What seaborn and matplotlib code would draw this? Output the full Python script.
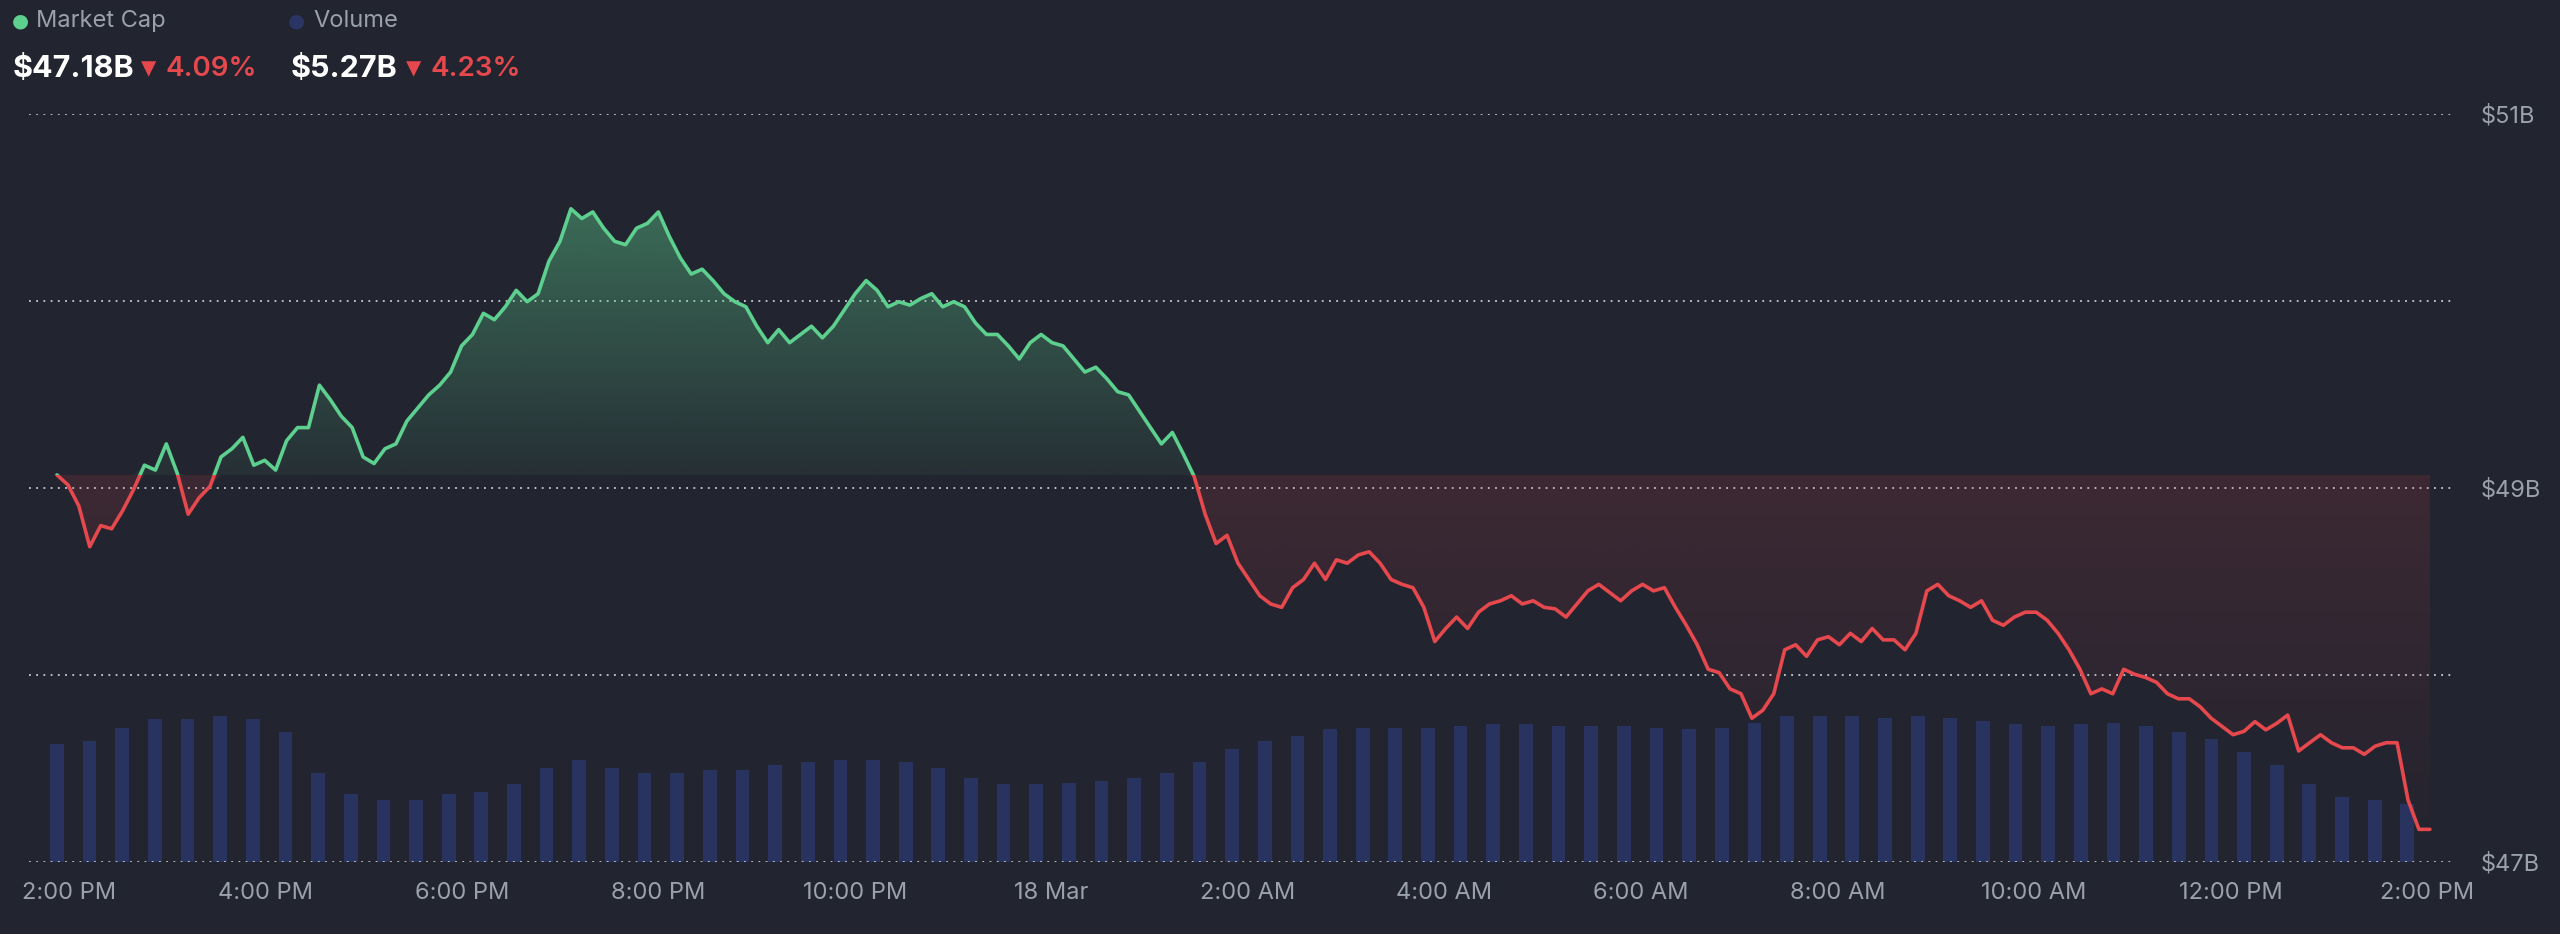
import numpy as np
import matplotlib
matplotlib.use("Agg")
import matplotlib.pyplot as plt
import seaborn as sns
from matplotlib.patches import Rectangle

sns.set_theme(style="dark")
plt.rcParams['font.family'] = 'Inter'

BG = '#22242f'
GREEN = '#5dcf8e'
RED = '#e5484d'
NAVY = '#2a3566'
GRAY = '#9ba1ab'

# market cap in $B, evenly spaced samples from 2:00 PM (17 Mar) to 2:00 PM (18 Mar)
cap_px = [291, 297, 310, 335, 322, 324, 313, 300, 285, 288, 272, 290, 315, 305, 298, 280, 275, 268, 285, 282,
          288, 270, 262, 262, 236, 245, 255, 262, 280, 284, 275, 272, 258, 250, 242, 236, 228, 212, 205, 192,
          196, 188, 178, 185, 180, 160, 148, 128, 134, 130, 140, 148, 150, 140, 137, 130, 145, 158, 168, 165,
          172, 180, 185, 188, 200, 210, 202, 210, 205, 200, 207, 200, 190, 180, 172, 178, 188, 185, 187, 183,
          180, 188, 185, 188, 198, 205, 205, 212, 220, 210, 205, 210, 212, 220, 228, 225, 232, 240, 242, 252,
          262, 272, 265, 278, 292, 315, 333, 328, 345, 355, 365, 370, 372, 360, 355, 345, 355, 343, 345, 340,
          338, 345, 355, 358, 360, 372, 393, 385, 378, 385, 375, 370, 368, 365, 370, 368, 372, 373, 378, 370,
          362, 358, 363, 368, 362, 358, 362, 360, 372, 383, 395, 410, 412, 422, 425, 440, 435, 425, 398, 395,
          402, 392, 390, 395, 388, 393, 385, 392, 392, 398, 388, 362, 358, 365, 368, 372, 368, 380, 383, 378,
          375, 375, 380, 388, 398, 410, 425, 422, 425, 410, 413, 415, 418, 425, 428, 428, 433, 440, 445, 450,
          448, 442, 447, 443, 438, 460, 455, 450, 455, 458, 458, 462, 457, 455, 455, 490, 508, 508]
market_cap = [round(51 - (p - 70) / 229 * 2, 3) for p in cap_px]

# volume, relative units, evenly spaced bars
volume = [73, 75, 83, 88, 88, 90, 88, 80, 55, 42, 38, 38, 42, 43, 48, 58, 63, 58, 55, 55,
          57, 57, 60, 62, 63, 63, 62, 58, 52, 48, 48, 49, 50, 52, 55, 62, 70, 75, 78, 82,
          83, 83, 83, 84, 85, 85, 84, 84, 84, 83, 82, 83, 86, 90, 90, 90, 89, 90, 89, 87,
          85, 84, 85, 86, 84, 80, 76, 68, 60, 48, 40, 38, 36]

tick_hours = [0, 2, 4, 6, 8, 10, 12, 14, 16, 18, 20, 22, 24]
tick_labels = ['2:00 PM', '4:00 PM', '6:00 PM', '8:00 PM', '10:00 PM', '18 Mar', '2:00 AM',
               '4:00 AM', '6:00 AM', '8:00 AM', '10:00 AM', '12:00 PM', '2:00 PM']

t_cap = np.linspace(-0.12, 24.03, len(market_cap))
t_vol = np.linspace(-0.12, 23.8, len(volume))
cap = np.array(market_cap)
base = cap[0]

fig = plt.figure(figsize=(25.6, 9.34), dpi=100, facecolor=BG)
ax = fig.add_axes([0.0115, 0.077, 0.9465, 0.801])
ax.set_facecolor(BG)
xlim = (-0.40, 24.26)

# volume bars on twin axis
axv = ax.twinx()
axv.set_zorder(0)
ax.set_zorder(1)
ax.patch.set_visible(False)
axv.set_facecolor(BG)
axv.bar(t_vol, volume, width=0.14, color=NAVY, alpha=0.9, linewidth=0)
axv.set_ylim(0, max(volume) / 0.195)
axv.set_yticks([])
axv.set_xlim(*xlim)

ax.set_xlim(*xlim)
ax.set_ylim(47, 51)

# gradient fills clipped to area polygons
for above, col, top_a, bot_a in [(True, GREEN, 0.42, 0.07), (False, RED, 0.14, 0.0)]:
    if above:
        poly = ax.fill_between(t_cap, base, np.maximum(cap, base), color='none', lw=0)
        ext = [t_cap[0], t_cap[-1], base, cap.max()]
    else:
        poly = ax.fill_between(t_cap, np.minimum(cap, base), base, color='none', lw=0)
        ext = [t_cap[0], t_cap[-1], 47, base]
    rgba = np.zeros((256, 1, 4))
    rgba[..., :3] = matplotlib.colors.to_rgb(col)
    rgba[..., 3] = np.linspace(top_a, bot_a, 256)[:, None]
    im = ax.imshow(rgba, extent=ext, aspect='auto', origin='upper', zorder=2)
    im.set_clip_path(poly.get_paths()[0], transform=ax.transData)

# line, green above baseline, red below
for col, y0, y1 in [(GREEN, base, 51), (RED, 47, base)]:
    ln, = ax.plot(t_cap, cap, color=col, lw=2.6, zorder=3)
    ln.set_clip_path(Rectangle((xlim[0], y0), xlim[1] - xlim[0], y1 - y0, transform=ax.transData))

for g in [47, 48, 49, 50, 51]:
    ax.axhline(g, color='#c9ccd3', lw=1.3, ls=(0, (1, 3)), zorder=1.5)

ax.yaxis.tick_right()
ax.set_yticks([47, 49, 51])
ax.set_yticklabels(['$47B', '$49B', '$51B'])
ax.set_xticks(tick_hours)
ax.set_xticklabels(tick_labels)
ax.tick_params(colors=GRAY, labelsize=17, length=0, pad=14)
ax.tick_params(axis='y', pad=20)
ax.grid(False)
for a in (ax, axv):
    for s in a.spines.values():
        s.set_visible(False)

# header
fig.text(0.0045, 0.977, '●', color=GREEN, fontsize=14, va='center', fontfamily='DejaVu Sans')
fig.text(0.1125, 0.977, '●', color=NAVY, fontsize=14, va='center', fontfamily='DejaVu Sans')
fig.text(0.014, 0.977, 'Market Cap', color=GRAY, fontsize=17, va='center')
fig.text(0.1225, 0.977, 'Volume', color=GRAY, fontsize=17, va='center')
fig.text(0.005, 0.926, '$47.18B', color='white', fontsize=22, fontweight='bold', va='center')
fig.text(0.055, 0.926, '▾', color=RED, fontsize=22, va='center', fontfamily='DejaVu Sans')
fig.text(0.0645, 0.926, '4.09%', color=RED, fontsize=20, fontweight='semibold', va='center')
fig.text(0.1135, 0.926, '$5.27B', color='white', fontsize=22, fontweight='bold', va='center')
fig.text(0.1585, 0.926, '▾', color=RED, fontsize=22, va='center', fontfamily='DejaVu Sans')
fig.text(0.168, 0.926, '4.23%', color=RED, fontsize=20, fontweight='semibold', va='center')

fig.savefig('out.png', dpi=100, facecolor=BG)
